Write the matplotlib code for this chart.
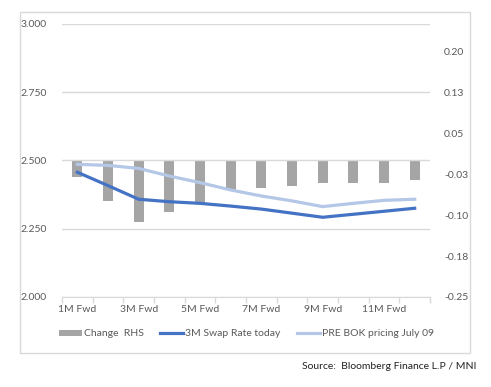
import numpy as np
import matplotlib
matplotlib.use("Agg")
import matplotlib.pyplot as plt
from matplotlib.patches import Patch, Rectangle
from matplotlib.lines import Line2D

plt.rcParams['font.family'] = ['Lato', 'DejaVu Sans']

# 数据
categories = ['1M Fwd', '2M Fwd', '3M Fwd', '4M Fwd', '5M Fwd', '6M Fwd',
              '7M Fwd', '8M Fwd', '9M Fwd', '10M Fwd', '11M Fwd', '12M Fwd']
change_rhs = [-0.030, -0.074, -0.112, -0.094, -0.077, -0.054,
              -0.050, -0.046, -0.041, -0.041, -0.041, -0.035]
swap_today = [2.457, 2.408, 2.358, 2.349, 2.343, 2.333,
              2.322, 2.307, 2.292, 2.303, 2.314, 2.325]
pre_bok = [2.486, 2.482, 2.471, 2.443, 2.419, 2.392,
           2.370, 2.352, 2.331, 2.343, 2.354, 2.358]
left_ticks = [2.0, 2.25, 2.5, 2.75, 3.0]
left_labels = ['2.000', '2.250', '2.500', '2.750', '3.000']
right_ticks = [-0.25, -0.175, -0.10, -0.025, 0.05, 0.125, 0.20]
right_labels = ['-0.25', '-0.18', '-0.10', '-0.03', '0.05', '0.13', '0.20']

c_bar = '#A5A5A5'
c_dark = '#4472C4'
c_light = '#B4C7E7'
c_text = '#595959'
c_grid = '#D9D9D9'

fig = plt.figure(figsize=(4.91, 3.87), dpi=100)
ax = fig.add_axes([0.1263, 0.2326, 0.7495, 0.7054])
ax2 = ax.twinx()

x = np.arange(len(categories))

# 柱状图（右轴）
ax2.bar(x, change_rhs, width=0.33, color=c_bar, zorder=2)
ax2.set_ylim(-0.25, 0.25)
ax2.set_yticks(right_ticks)
ax2.set_yticklabels(right_labels)

# 折线（左轴）
ax.plot(x, pre_bok, color=c_light, linewidth=2.3, zorder=3)
ax.plot(x, swap_today, color=c_dark, linewidth=2.3, zorder=4)
ax.set_ylim(2.0, 3.0)
ax.set_yticks(left_ticks)
ax.set_yticklabels(left_labels)
ax.set_xlim(-0.5, len(categories) - 0.5)
ax.grid(True, axis='y', color=c_grid, linewidth=1)
ax.set_axisbelow(True)

ax.set_zorder(ax2.get_zorder() + 1)
ax.patch.set_visible(False)

# 坐标轴样式
ax.set_xticks(x[::2])
ax.set_xticklabels(categories[::2])
ax.set_xticks(np.arange(-0.5, len(categories), 1), minor=True)
ax.tick_params(axis='x', which='major', length=0, pad=6, labelsize=7.5, labelcolor=c_text)
ax.tick_params(axis='x', which='minor', length=4, color=c_grid, width=1)
ax.tick_params(axis='y', length=0, pad=11, labelsize=7.5, labelcolor=c_text)
ax2.tick_params(axis='y', length=0, pad=10, labelsize=7.5, labelcolor=c_text)
for a in (ax, ax2):
    for s in a.spines.values():
        s.set_visible(False)
ax.spines['bottom'].set_visible(True)
ax.spines['bottom'].set_color(c_grid)

# 图例
handles = [Patch(facecolor=c_bar, edgecolor='none'),
           Line2D([0], [0], color=c_dark, linewidth=2.3),
           Line2D([0], [0], color=c_light, linewidth=2.3)]
labels = ['Change  RHS', '3M Swap Rate today', 'PRE BOK pricing July 09']
fig.legend(handles, labels, loc='center', bbox_to_anchor=(0.502, 0.137), ncol=3,
           frameon=False, fontsize=7.5, handlelength=2.2, handleheight=0.5,
           handletextpad=0.2, columnspacing=1.6, labelcolor=c_text)

# 外框
fig.patches.append(Rectangle((0.0407, 0.0879), 0.9165, 0.881, transform=fig.transFigure,
                             fill=False, edgecolor=c_grid, linewidth=1))

fig.text(0.9695, 0.0517, 'Source:  Bloomberg Finance L.P / MNI', ha='right', va='center',
         fontsize=7.5, color='#222222')

plt.savefig('out.png', dpi=100)
